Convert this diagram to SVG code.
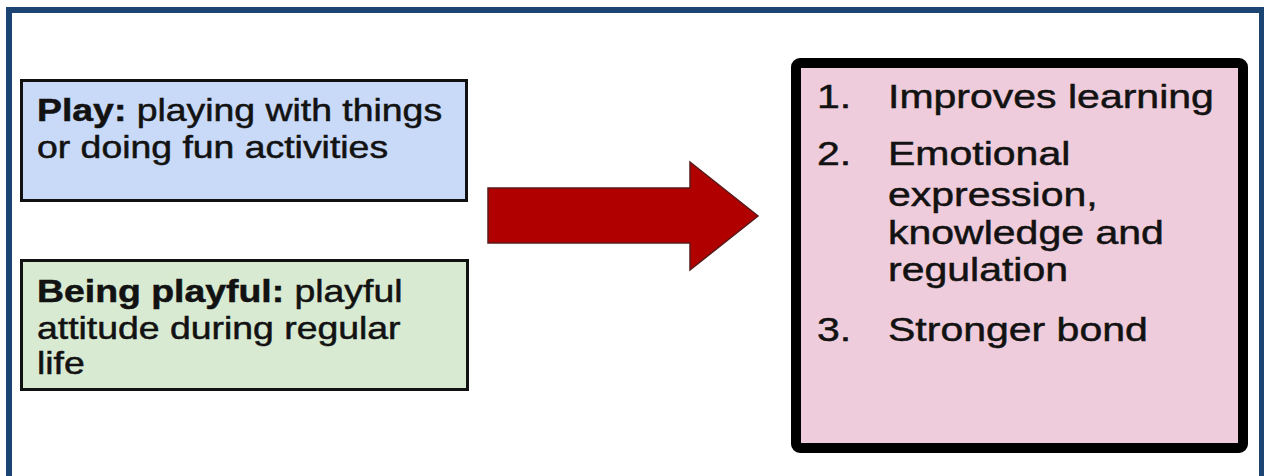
<svg xmlns="http://www.w3.org/2000/svg" width="1264" height="476" viewBox="0 0 1264 476">
<style>
.t{font-family:"Liberation Sans",Arial,sans-serif;fill:#121212;stroke:#121212;stroke-width:0.5;}
.l{font-size:31px;}
.r{font-size:34px;}
.b{font-weight:bold;}
</style>
<rect x="0" y="0" width="1264" height="476" fill="#ffffff"/>
<rect id="frame" x="9" y="10" width="1253" height="520" fill="none" stroke="#1B4472" stroke-width="6"/>
<g id="play">
<rect x="21.5" y="80.5" width="445" height="120" fill="#C9DAF8" stroke="#111" stroke-width="3"/>
<text class="t l" transform="translate(37,121) scale(1.206,1)"><tspan class="b">Play:</tspan> playing with things</text>
<text class="t l" transform="translate(37,158) scale(1.206,1)">or doing fun activities</text>
</g>
<g id="playful">
<rect x="21.5" y="260.5" width="446" height="129" fill="#D9EAD3" stroke="#111" stroke-width="3"/>
<text class="t l" transform="translate(37,302) scale(1.206,1)"><tspan class="b">Being playful:</tspan> playful</text>
<text class="t l" transform="translate(37,339) scale(1.206,1)">attitude during regular</text>
<text class="t l" transform="translate(37,374) scale(1.206,1)">life</text>
</g>
<g id="connectors">
<polygon points="488,188 690,188 690,162 758,216 690,270 690,243 488,243" fill="#B00000" stroke="#5A1A1A" stroke-width="1.5" stroke-linejoin="miter"/>
</g>
<g id="benefits">
<rect x="796" y="63" width="447" height="385" rx="4" fill="#EECCDB" stroke="#000" stroke-width="10"/>
<text class="t r" transform="translate(817,108) scale(1.206,1)">1.</text>
<text class="t r" transform="translate(888,108) scale(1.206,1)">Improves learning</text>
<text class="t r" transform="translate(817,165) scale(1.206,1)">2.</text>
<text class="t r" transform="translate(888,165) scale(1.206,1)">Emotional</text>
<text class="t r" transform="translate(888,206) scale(1.206,1)">expression,</text>
<text class="t r" transform="translate(888,244) scale(1.206,1)">knowledge and</text>
<text class="t r" transform="translate(888,281) scale(1.206,1)">regulation</text>
<text class="t r" transform="translate(817,341) scale(1.206,1)">3.</text>
<text class="t r" transform="translate(888,341) scale(1.206,1)">Stronger bond</text>
</g>
</svg>
